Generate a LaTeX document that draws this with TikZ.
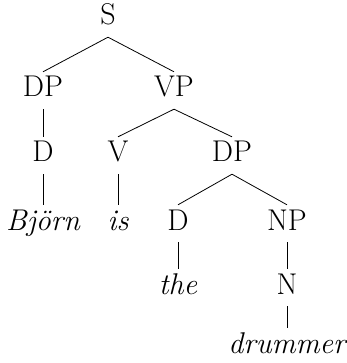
\documentclass[tikz,border=0pt]{standalone}
\begin{document}
\begin{tikzpicture}[x=1pt,y=-1pt,
  lab/.style={anchor=base,inner sep=7pt,text height=18pt,text depth=5pt,font=\fontsize{30}{35}\selectfont},
  word/.style={lab,font=\fontsize{30}{35}\selectfont\itshape},
  edge/.style={draw=black,line width=0.8pt}]
\useasboundingbox (0,0) rectangle (346,363);
\node[lab] (S) at (108,25) {S};
\node[lab] (DPa) at (43,97) {DP};
\node[lab] (VP) at (174,97) {VP};
\node[lab] (Da) at (43,162) {D};
\node[lab] (V) at (118,162) {V};
\node[lab] (DPb) at (232,162) {DP};
\node[word] (bjorn) at (43,230) {Björn};
\node[word] (is) at (118,230) {is};
\node[lab] (Db) at (178,230) {D};
\node[lab] (NP) at (287,230) {NP};
\node[word] (the) at (178,294) {the};
\node[lab] (N) at (287,294) {N};
\node[word] (drummer) at (287,353) {drummer};
\draw[edge] (S.south) -- (DPa.north);
\draw[edge] (S.south) -- (VP.north);
\draw[edge] (DPa.south) -- (Da.north);
\draw[edge] (VP.south) -- (V.north);
\draw[edge] (VP.south) -- (DPb.north);
\draw[edge] (Da.south) -- (bjorn.north);
\draw[edge] (V.south) -- (is.north);
\draw[edge] (DPb.south) -- (Db.north);
\draw[edge] (DPb.south) -- (NP.north);
\draw[edge] (Db.south) -- (the.north);
\draw[edge] (NP.south) -- (N.north);
\draw[edge] (N.south) -- (drummer.north);
\end{tikzpicture}
\end{document}
